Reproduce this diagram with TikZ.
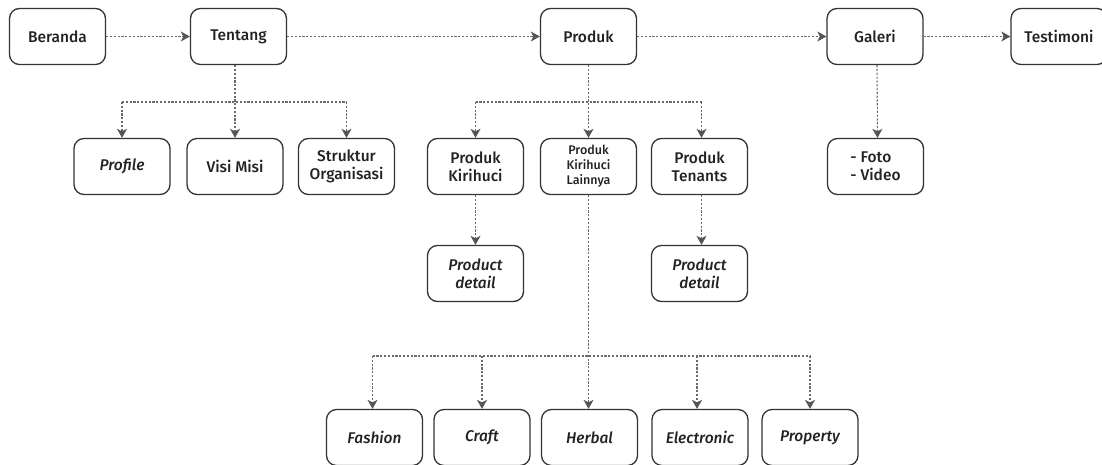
\documentclass[tikz,border=0pt]{standalone}
\usepackage{fontspec}
\setmainfont{Fira Sans Medium}
\usetikzlibrary{arrows.meta}
\definecolor{boxc}{HTML}{333333}
\definecolor{linec}{HTML}{6A6A6A}
\definecolor{headc}{HTML}{555555}
\definecolor{txtc}{HTML}{222222}
\tikzset{
  pg/.style={draw=boxc, line width=1.3pt, rounded corners=10pt, minimum width=96pt, minimum height=56pt, inner sep=2pt, align=center, text=txtc, font=\fontsize{15.5}{18}\selectfont},
  pgsmall/.style={pg, font=\fontsize{12.5}{15}\selectfont},
  conn/.style={draw=linec, line width=1.1pt, dash pattern=on 2.2pt off 1.6pt},
  arr/.style={conn, -{Stealth[length=9pt,width=10pt,inset=2.5pt,fill=headc,color=headc]}},
}
\begin{document}
\begin{tikzpicture}[x=1pt,y=-1pt]
\useasboundingbox (0,0) rectangle (1102,465);
\clip (0,0) rectangle (1102,465);
% top row
\node[pg] (beranda) at (57.5,36.5) {Beranda};
\node[pg] (tentang) at (238.5,36.5) {Tentang};
\node[pg] (produk) at (588.5,36.5) {Produk};
\node[pg] (galeri) at (875,36.5) {Galeri};
\node[pg] (testi) at (1059,36.5) {Testimoni};
% second row
\node[pg] (profile) at (122,166.5) {\itshape Profile};
\node[pg] (visi) at (235,166.5) {Visi Misi};
\node[pg] (struktur) at (346.5,166.5) {Struktur\\Organisasi};
\node[pg] (kiri) at (475.5,166.5) {Produk\\Kirihuci};
\node[pgsmall] (lain) at (588.5,166.5) {Produk\\Kirihuci\\Lainnya};
\node[pg] (tenants) at (699.5,166.5) {Produk\\Tenants};
\node[pg, align=left] (foto) at (875.5,166.5) {- Foto\\- Video};
% third row
\node[pg] (pd1) at (475.5,273.5) {\itshape Product\\\itshape detail};
\node[pg] (pd2) at (699.5,273.5) {\itshape Product\\\itshape detail};
% bottom row
\node[pg] (fashion) at (374.5,437.5) {\itshape Fashion};
\node[pg] (craft) at (482,437.5) {\itshape Craft};
\node[pg] (herbal) at (589.5,437.5) {\itshape Herbal};
\node[pg] (elec) at (700,437.5) {\itshape Electronic};
\node[pg] (prop) at (810,437.5) {\itshape Property};
% bracket coordinates
\coordinate (bt) at (0,102);
\coordinate (bb) at (0,356);
% horizontal flow
\draw[arr] (beranda) -- (tentang);
\draw[arr] (tentang) -- (produk);
\draw[arr] (produk) -- (galeri);
\draw[arr] (galeri) -- (testi);
% Tentang children
\draw[arr] (tentang.south -| visi) -- (visi.north);
\draw[conn] (profile.north |- bt) -- (struktur.north |- bt);
\draw[arr] (profile.north |- bt) -- (profile.north);
\draw[arr] (struktur.north |- bt) -- (struktur.north);
% Produk children
\draw[arr] (produk.south) -- (lain.north);
\draw[conn] (kiri.north |- bt) -- ([xshift=2pt]tenants.north |- bt);
\draw[arr] (kiri.north |- bt) -- (kiri.north);
\draw[arr] ([xshift=2pt]tenants.north |- bt) -- ([xshift=2pt]tenants.north);
\draw[arr] (kiri.south) -- (pd1.north);
\draw[arr] ([xshift=2pt]tenants.south) -- ([xshift=2pt]pd2.north);
% Galeri child
\draw[arr] ([xshift=2pt]galeri.south) -- ([xshift=2pt]foto.north);
% Lainnya children
\draw[arr] (lain.south) -- (lain.south |- herbal.north);
\draw[conn] ([xshift=-2pt]fashion.north |- bb) -- (prop.north |- bb);
\draw[arr] ([xshift=-2pt]fashion.north |- bb) -- ([xshift=-2pt]fashion.north);
\draw[arr] (craft.north |- bb) -- (craft.north);
\draw[arr] ([xshift=-3pt]elec.north |- bb) -- ([xshift=-3pt]elec.north);
\draw[arr] (prop.north |- bb) -- (prop.north);
\end{tikzpicture}
\end{document}
